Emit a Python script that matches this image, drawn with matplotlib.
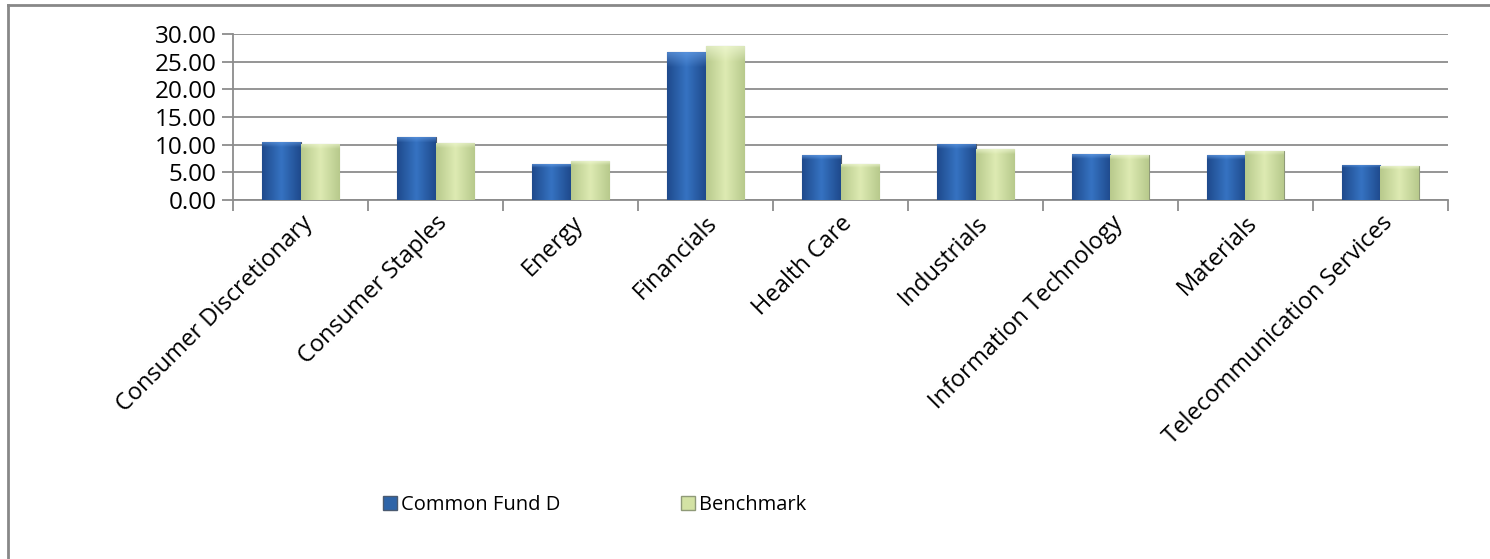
import matplotlib
matplotlib.use("Agg")
import matplotlib.pyplot as plt
import numpy as np
from matplotlib.lines import Line2D
from matplotlib.patches import Patch

sectors = [
    "Consumer Discretionary", "Consumer Staples", "Energy", "Financials",
    "Health Care", "Industrials", "Information Technology", "Materials",
    "Telecommunication Services",
]
fund_d = [10.5, 11.4, 6.5, 26.7, 8.1, 10.2, 8.3, 8.1, 6.4]
benchmark = [10.2, 10.4, 7.0, 27.8, 6.5, 9.2, 8.1, 8.9, 6.1]
y_ticks = [0, 5, 10, 15, 20, 25, 30]

plt.rcParams["font.family"] = ["Open Sans", "DejaVu Sans"]

GRID = "#8c8c8c"


def shade_bar(ax, bar, light, mid, dark):
    """Fill a bar with a bevel-like gradient (lighter centre, darker edges)."""
    x0, y0 = bar.get_x(), bar.get_y()
    w, h = bar.get_width(), bar.get_height()
    n = 64
    t = np.linspace(0, 1, n)
    prof = 1 - np.abs(t - 0.5) * 2
    cols = np.array([np.interp(prof, [0, 1], [dark[i], mid[i]]) for i in range(3)]).T
    img = np.tile(cols[None, :, :], (n, 1, 1))
    # lighter band at the top of the bar
    top_rows = 6
    for r in range(top_rows):
        k = 0.6 * (1 - r / top_rows)
        img[n - 1 - r] = img[n - 1 - r] * (1 - k) + np.array(light) * k
    im = ax.imshow(img, extent=(x0, x0 + w, y0, y0 + h), origin="lower",
                   aspect="auto", zorder=3, interpolation="bilinear")
    im.set_clip_path(bar)


fig = plt.figure(figsize=(14.9, 5.59), dpi=100)
ax = fig.add_axes([0.1564, 0.642, 0.8154, 0.297])

x = np.arange(len(sectors))
w = 0.285
b1 = ax.bar(x - w / 2, fund_d, w, color="#2e64a8", edgecolor="#4a5a70", linewidth=0.8, zorder=3)
b2 = ax.bar(x + w / 2, benchmark, w, color="#d3e2a4", edgecolor="#8f9a78", linewidth=0.8, zorder=3)

blue = ((0.42, 0.64, 0.92), (0.21, 0.45, 0.76), (0.12, 0.29, 0.55))
green = ((0.95, 0.98, 0.85), (0.87, 0.92, 0.70), (0.72, 0.79, 0.55))
for bar in b1:
    shade_bar(ax, bar, *blue)
for bar in b2:
    shade_bar(ax, bar, *green)

ax.set_xlim(-0.5, len(sectors) - 0.5)
ax.set_ylim(0, 30)
ax.set_yticks(y_ticks)
ax.set_yticklabels([f"{v:.2f}" for v in y_ticks], fontsize=17.5)
ax.yaxis.grid(True, color=GRID, linewidth=1.3, zorder=0)
ax.set_axisbelow(True)

ax.set_xticks(x)
ax.set_xticklabels(sectors, rotation=45, ha="right", va="top",
                   rotation_mode="anchor", fontsize=17)
ax.set_xticks(np.arange(-0.5, len(sectors)), minor=True)
ax.tick_params(axis="x", which="major", length=0, pad=8)
ax.tick_params(axis="x", which="minor", length=8, color=GRID, width=1.3)
ax.tick_params(axis="y", length=8, color=GRID, width=1.3, pad=4)

for s in ["top", "right"]:
    ax.spines[s].set_visible(False)
for s in ["left", "bottom"]:
    ax.spines[s].set_color(GRID)
    ax.spines[s].set_linewidth(1.3)

handles = [Patch(facecolor="#2e64a8", edgecolor="#4a5a70"),
           Patch(facecolor="#d3e2a4", edgecolor="#8f9a78")]
fig.legend(handles, ["Common Fund D", "Benchmark"], loc="center",
           bbox_to_anchor=(0.399, 0.097), ncol=2, frameon=False, fontsize=14.5,
           handlelength=0.7, handleheight=0.7, handletextpad=0.2,
           columnspacing=6.0)

# outer chart border (left and top edges visible)
fig.add_artist(Line2D([8 / 1490, 8 / 1490], [0, 1 - 5 / 559], color="#888888",
                      linewidth=2, transform=fig.transFigure))
fig.add_artist(Line2D([8 / 1490, 1], [1 - 5 / 559, 1 - 5 / 559], color="#888888",
                      linewidth=2, transform=fig.transFigure))

fig.savefig("out.png", dpi=100)
